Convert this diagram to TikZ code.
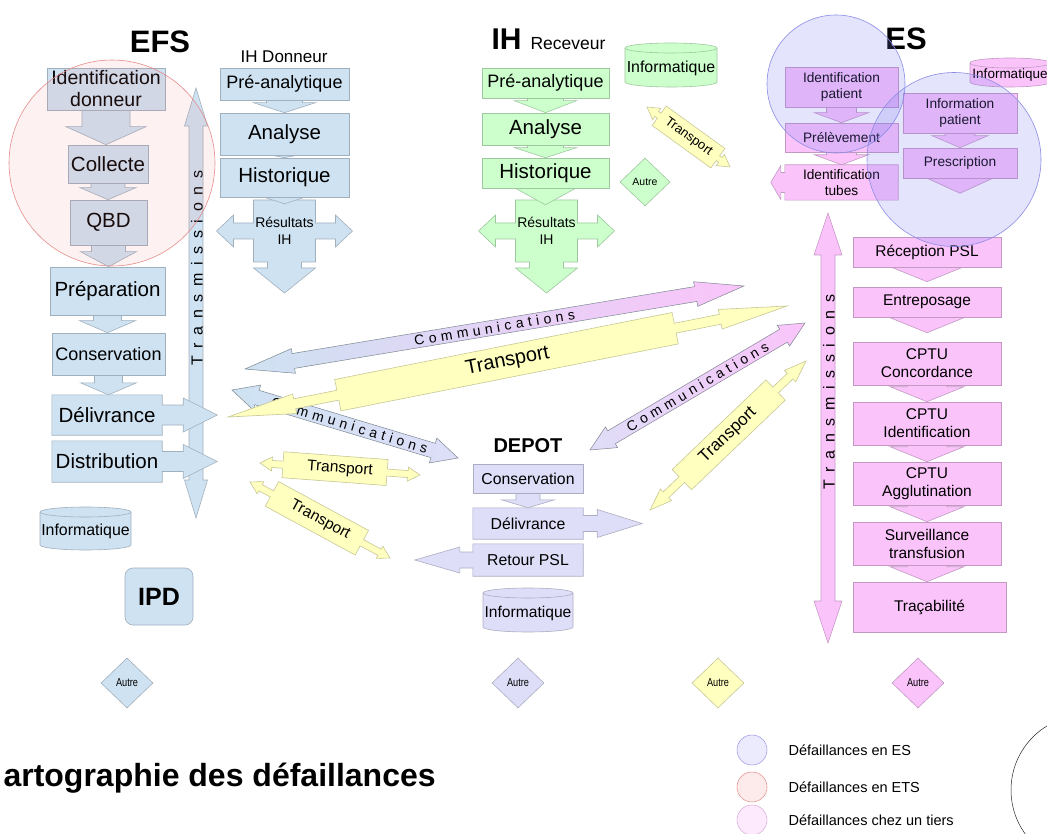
\documentclass[tikz,border=0pt]{standalone}
\usepackage{fontspec}
\setmainfont{Liberation Sans}
\newfontfamily\narrowf[FakeStretch=0.8]{Liberation Sans}
\newfontfamily\spacedf[LetterSpace=32]{Liberation Sans}
\newfontfamily\tspacedf[LetterSpace=48]{Liberation Sans}
\usetikzlibrary{calc,shapes.geometric}
\pgfdeclarelayer{bg}
\pgfsetlayers{bg,main}
\newcommand\fz[2]{\fontsize{#1}{#2}\selectfont}
\definecolor{cblue}{RGB}{206,226,242}
\definecolor{cgreen}{RGB}{204,255,204}
\definecolor{cpink}{RGB}{250,196,250}
\definecolor{clav}{RGB}{222,222,248}
\definecolor{cyell}{RGB}{255,255,192}
\definecolor{credf}{RGB}{240,120,120}
\definecolor{credd}{RGB}{230,140,140}
\definecolor{cbluef}{RGB}{120,120,240}
\definecolor{cblued}{RGB}{140,140,230}
\tikzset{
 shp/.style={fill=#1, draw=#1!78!black, line width=0.6pt},
 box/.style={shp=#1, inner sep=0pt, align=center},
 lbl/.style={inner sep=0pt, align=center},
 autre/.style={diamond, shp=#1, minimum width=52pt, minimum height=50pt, inner sep=0pt, aspect=1, font=\narrowf\fz{11.5}{12}},
}
% chevron arrow from node #1 down to node #2
\newcommand\chevarrow[7]{%
  \path[shp=#7] let \p1=(#1.south), \p2=(#2.north) in
   (\x1-#3pt,\y1+8pt) -- (\x1+#3pt,\y1+8pt) -- (\x1+#3pt,\y2+#6pt+#5pt) -- (\x1+#4pt,\y2+#6pt+#5pt)
   -- (\x1,\y2+#6pt) -- (\x1-#4pt,\y2+#6pt+#5pt) -- (\x1-#3pt,\y2+#6pt+#5pt) -- cycle;}
\newcommand\rcallout[6]{%
  \path[shp=#6] let \p1=(#1.north west), \p2=(#1.south east), \p3=(#1.east) in
   (\x1,\y1) -- (\x2,\y1) -- (\x2,\y3+#2pt) -- (\x2+#4pt,\y3+#2pt) -- (\x2+#4pt,\y3+#3pt) -- (\x2+#5pt,\y3)
   -- (\x2+#4pt,\y3-#3pt) -- (\x2+#4pt,\y3-#2pt) -- (\x2,\y3-#2pt) -- (\x2,\y2) -- (\x1,\y2) -- cycle;}
\newcommand\lcallout[6]{%
  \path[shp=#6] let \p1=(#1.north west), \p2=(#1.south east), \p3=(#1.west) in
   (\x2,\y1) -- (\x1,\y1) -- (\x1,\y3+#2pt) -- (\x1-#4pt,\y3+#2pt) -- (\x1-#4pt,\y3+#3pt) -- (\x1-#5pt,\y3)
   -- (\x1-#4pt,\y3-#3pt) -- (\x1-#4pt,\y3-#2pt) -- (\x1,\y3-#2pt) -- (\x1,\y2) -- (\x2,\y2) -- cycle;}
\newcommand\dblarrow[6]{%
  \path[#6] (#1)
   -- ($(#1)!#5pt!(#2)!#4pt!90:(#2)$) -- ($(#1)!#5pt!(#2)!#3pt!90:(#2)$)
   -- ($(#2)!#5pt!(#1)!#3pt!-90:(#1)$) -- ($(#2)!#5pt!(#1)!#4pt!-90:(#1)$)
   -- (#2)
   -- ($(#2)!#5pt!(#1)!#4pt!90:(#1)$) -- ($(#2)!#5pt!(#1)!#3pt!90:(#1)$)
   -- ($(#1)!#5pt!(#2)!#3pt!-90:(#2)$) -- ($(#1)!#5pt!(#2)!#4pt!-90:(#2)$) -- cycle;}
\newcommand\bodyarrow[9]{%
  \path[#9] (#1)
   -- ($(#1)!#5pt!(#2)!#4pt!90:(#2)$) -- ($(#1)!#5pt!(#2)!#3pt!90:(#2)$)
   -- ($(#1)!#7pt!(#2)!#3pt!90:(#2)$) -- ($(#1)!#7pt!(#2)!#6pt!90:(#2)$)
   -- ($(#2)!#8pt!(#1)!#6pt!-90:(#1)$) -- ($(#2)!#8pt!(#1)!#3pt!-90:(#1)$)
   -- ($(#2)!#5pt!(#1)!#3pt!-90:(#1)$) -- ($(#2)!#5pt!(#1)!#4pt!-90:(#1)$)
   -- (#2)
   -- ($(#2)!#5pt!(#1)!#4pt!90:(#1)$) -- ($(#2)!#5pt!(#1)!#3pt!90:(#1)$)
   -- ($(#2)!#8pt!(#1)!#3pt!90:(#1)$) -- ($(#2)!#8pt!(#1)!#6pt!90:(#1)$)
   -- ($(#1)!#7pt!(#2)!#6pt!-90:(#2)$) -- ($(#1)!#7pt!(#2)!#3pt!-90:(#2)$)
   -- ($(#1)!#5pt!(#2)!#3pt!-90:(#2)$) -- ($(#1)!#5pt!(#2)!#4pt!-90:(#2)$) -- cycle;}
\newcommand\resarrow[2]{%
  \path[shp=#2] (#1-31,200) -- (#1+31,200) -- (#1+31,223) -- (#1+51,223) -- (#1+51,215) -- (#1+68,231)
   -- (#1+51,247) -- (#1+51,239) -- (#1+31,239) -- (#1+31,262) -- (#1+17,262) -- (#1+17,268) -- (#1+31,268)
   -- (#1,293) -- (#1-31,268) -- (#1-17,268) -- (#1-17,262) -- (#1-31,262) -- (#1-31,239) -- (#1-51,239)
   -- (#1-51,247) -- (#1-68,231) -- (#1-51,215) -- (#1-51,223) -- (#1-31,223) -- cycle;}
\newcommand\cylnode[8]{%
  \path[shp=#6] (#2-#4/2,#3-#5/2+5) -- (#2-#4/2,#3+#5/2-5)
    arc[start angle=180,end angle=360,x radius=#4/2*1pt,y radius=5pt] -- (#2+#4/2,#3-#5/2+5)
    arc[start angle=0,end angle=180,x radius=#4/2*1pt,y radius=5pt] -- cycle;
  \draw[draw=#6!78!black, line width=0.6pt] (#2-#4/2,#3-#5/2+5) arc[start angle=180,end angle=360,x radius=#4/2*1pt,y radius=5pt];
  \node[lbl,font=#7] (#1) at (#2,#3+3) {#8};}
\begin{document}
\begin{tikzpicture}[x=1pt,y=-1pt]
\useasboundingbox (0,0) rectangle (1047,834);
\begin{pgfonlayer}{bg}\fill[white] (0,0) rectangle (1047,834);\end{pgfonlayer}

% ---------- titles
\node[anchor=base, font=\bfseries\fz{31}{31}] (efs) at (160,53) {EFS};
\node[font=\fz{17}{17}] (ihd) at (284,57) {IH Donneur};
\node[anchor=base west] (ihr) at (488,50) {{\bfseries\fz{30}{30}IH}\hspace{9pt}{\fz{17.5}{17.5}Receveur}};
\node[anchor=base, font=\bfseries\fz{31}{31}] (es) at (906,50) {ES};
\node[anchor=base, font=\bfseries\fz{20}{20}] (dep) at (528,452) {DEPOT};

% ---------- EFS column
\node[box=cblue, minimum width=118pt, minimum height=42pt, font=\fz{19.5}{22}] (idd) at (106,89) {Identification\\donneur};
\node[box=cblue, minimum width=80pt, minimum height=38pt, font=\fz{20.5}{22}] (col) at (108,164) {Collecte};
\node[box=cblue, minimum width=77pt, minimum height=45pt, font=\fz{20.5}{22}] (qbd) at (108.5,222.5) {QBD};
\node[box=cblue, minimum width=115pt, minimum height=48pt, font=\fz{20.5}{22}] (prep) at (107.5,291) {Préparation};
\node[box=cblue, minimum width=113pt, minimum height=42pt, font=\fz{18}{20}] (cons) at (108.5,354) {Conservation};
\node[lbl, minimum width=110pt, minimum height=40pt, font=\fz{20.5}{22}] (deli) at (107,415) {Délivrance};
\node[lbl, minimum width=110pt, minimum height=41pt, font=\fz{20.5}{22}] (dist) at (107,461.5) {Distribution};
\cylnode{inf1}{85.5}{528.5}{91}{43}{cblue}{\fz{15.9}{18}}{Informatique}
\node[shp=cblue, rounded corners=8pt, minimum width=68pt, minimum height=57pt, inner sep=0pt, font=\bfseries\fz{25}{25}] (ipd) at (159,596.5) {IPD};

% ---------- IH Donneur
\node[box=cblue, minimum width=129pt, minimum height=32pt, font=\fz{18}{20}] (pre1) at (284.5,84) {Pré-analytique};
\node[box=cblue, minimum width=129pt, minimum height=42pt, font=\fz{20.5}{22}] (ana1) at (284.5,134) {Analyse};
\node[box=cblue, minimum width=129pt, minimum height=39pt, font=\fz{20.5}{22}] (his1) at (284.5,177.5) {Historique};
\node[lbl, minimum width=62pt, minimum height=62pt, font=\fz{14}{17}] (res1) at (284.5,231) {Résultats\\IH};

% ---------- IH Receveur
\node[box=cgreen, minimum width=127pt, minimum height=30pt, font=\fz{18}{20}] (pre2) at (545.5,83) {Pré-analytique};
\node[box=cgreen, minimum width=127pt, minimum height=32pt, font=\fz{20.5}{22}] (ana2) at (545.5,129) {Analyse};
\node[box=cgreen, minimum width=127pt, minimum height=30pt, font=\fz{20.5}{22}] (his2) at (545.5,173) {Historique};
\node[lbl, minimum width=62pt, minimum height=62pt, font=\fz{14}{17}] (res2) at (546.5,231) {Résultats\\IH};
\cylnode{inf2}{671}{65}{92}{44}{cgreen}{\fz{15.9}{18}}{Informatique}
\node[diamond, shp=cgreen, minimum width=50pt, minimum height=48pt, inner sep=0pt, aspect=1, font=\fz{10.5}{11}] (aut0) at (645,182) {Autre};

% ---------- ES top
\cylnode{inf3}{1010}{72.5}{80}{29}{cpink}{\fz{13.5}{16}}{Informatique}
\node[box=cpink, minimum width=113pt, minimum height=40pt, font=\fz{13.7}{16}] (idp) at (841.5,87) {Identification\\patient};
\node[box=cpink, minimum width=113pt, minimum height=29pt, font=\fz{13.7}{16}] (prl) at (841.5,137.5) {Prélèvement};
\node[lbl, minimum width=113pt, minimum height=35pt, font=\fz{13.7}{16}] (idt) at (841.5,182.5) {Identification\\tubes};
\node[box=cpink, minimum width=114pt, minimum height=40pt, font=\fz{13.7}{16}] (inp) at (960,113) {Information\\patient};
\node[box=cpink, minimum width=114pt, minimum height=30pt, font=\fz{13.7}{16}] (prs) at (960,163) {Prescription};

% ---------- ES column
\node[box=cpink, minimum width=148pt, minimum height=30pt, font=\fz{15.5}{18}] (rec) at (927,252) {Réception PSL};
\node[box=cpink, minimum width=148pt, minimum height=30pt, font=\fz{15.5}{18}] (ent) at (927,302) {Entreposage};
\node[box=cpink, minimum width=148pt, minimum height=43pt, font=\fz{15.5}{18}] (cc) at (927,363.5) {CPTU\\Concordance};
\node[box=cpink, minimum width=148pt, minimum height=43pt, font=\fz{15.5}{18}] (ci) at (927,423.5) {CPTU\\Identification};
\node[box=cpink, minimum width=148pt, minimum height=43pt, font=\fz{15.5}{18}] (ca) at (927,483.5) {CPTU\\Agglutination};
\node[box=cpink, minimum width=148pt, minimum height=43pt, font=\fz{15.5}{18}] (sur) at (927,543.5) {Surveillance\\transfusion};
\node[box=cpink, minimum width=153pt, minimum height=50pt, font=\fz{15.5}{18}] (tra) at (929.5,607) {Traçabilité};

% ---------- DEPOT
\node[box=clav, minimum width=110pt, minimum height=29pt, font=\fz{15.8}{18}] (dcons) at (528,478.5) {Conservation};
\node[lbl, minimum width=110pt, minimum height=31pt, font=\fz{15.8}{18}] (ddel) at (528,523.5) {Délivrance};
\node[lbl, minimum width=110pt, minimum height=32pt, font=\fz{15.8}{18}] (dret) at (528,560) {Retour PSL};
\cylnode{dinf}{528}{610}{90}{44}{clav}{\fz{15.6}{18}}{Informatique}

% ---------- coordinates of the free arrows
\coordinate (tx1a) at (196,88);  \coordinate (tx1b) at (196,518);
\coordinate (tx2a) at (828,213); \coordinate (tx2b) at (828,643);
\coordinate (cm1a) at (245,369); \coordinate (cm1b) at (744,286);
\coordinate (cm2a) at (232,390); \coordinate (cm2b) at (458,458);
\coordinate (cm3a) at (590,450); \coordinate (cm3b) at (805,323);
\coordinate (tb1a) at (228,417); \coordinate (tb1b) at (787,306);
\coordinate (tr2a) at (650,510); \coordinate (tr2b) at (806,361);
\coordinate (ts1a) at (260,463); \coordinate (ts1b) at (420,475);
\coordinate (ts2a) at (250,482); \coordinate (ts2b) at (390,558);
\coordinate (ts3a) at (647,107); \coordinate (ts3b) at (730,167);

\begin{pgfonlayer}{bg}
 \dblarrow{tx1a}{tx1b}{7}{11.5}{38}{shp=cblue}
 \dblarrow{tx2a}{tx2b}{7}{14}{42}{shp=cpink}
 \chevarrow{idd}{col}{24}{40}{18}{0}{cblue}
 \chevarrow{col}{qbd}{17}{28}{12}{0}{cblue}
 \chevarrow{qbd}{prep}{17}{28}{15}{0}{cblue}
 \chevarrow{prep}{cons}{14}{28}{12}{0}{cblue}
 \chevarrow{cons}{deli}{14}{28}{12}{0}{cblue}
 \chevarrow{pre1}{ana1}{18}{31}{10}{0}{cblue}
 \chevarrow{ana1}{his1}{18}{31}{6}{0}{cblue}
 \chevarrow{pre2}{ana2}{18}{31}{12}{0}{cgreen}
 \chevarrow{ana2}{his2}{18}{31}{10}{0}{cgreen}
 \resarrow{284.5}{cblue}
 \resarrow{546.5}{cgreen}
 \chevarrow{his1}{res1}{18}{31}{10}{-4}{cblue}
 \chevarrow{his2}{res2}{18}{31}{17}{-5}{cgreen}
 \chevarrow{idp}{prl}{15}{27}{10}{0}{cpink}
 \chevarrow{prl}{idt}{15}{27}{10}{0}{cpink}
 \chevarrow{inp}{prs}{15}{28}{12}{0}{cpink}
 \path[shp=cpink] let \p1=(prs.south) in (\x1-37pt,\y1+2pt) -- (\x1+37pt,\y1+2pt) -- (\x1,\y1-15pt) -- cycle;
 \lcallout{idt}{10}{17}{4}{14}{cpink}
 \chevarrow{rec}{ent}{20}{37}{15}{5}{cpink}
 \chevarrow{ent}{cc}{20}{37}{15}{9}{cpink}
 \chevarrow{cc}{ci}{20}{37}{15}{0}{cpink}
 \chevarrow{ci}{ca}{20}{37}{15}{0}{cpink}
 \chevarrow{ca}{sur}{20}{37}{15}{0}{cpink}
 \chevarrow{sur}{tra}{20}{37}{15}{0}{cpink}
 \rcallout{deli}{10}{17}{21}{55}{cblue}
 \rcallout{dist}{10}{17}{21}{55}{cblue}
 \chevarrow{dcons}{ddel}{12}{26.5}{8}{0}{clav}
 \rcallout{ddel}{8}{14}{14}{59}{clav}
 \lcallout{dret}{8}{13}{13}{58}{clav}
\end{pgfonlayer}

\node[rotate=90, font=\tspacedf\fz{16}{16}] (trt1) at (197,268) {Transmissions};
\node[rotate=90, font=\tspacedf\fz{16}{16}] (trt2) at (829,392) {Transmissions};

% ---------- middle arrows
\dblarrow{cm2a}{cm2b}{7.5}{13}{26}{left color=cblue,right color=clav,draw=cblue!60!black,line width=0.5pt}
\path (cm2a) -- (cm2b) node[pos=0.52, sloped, font=\spacedf\fz{14}{14}] (cm2t) {Communications};
\dblarrow{cm1a}{cm1b}{7.5}{12.5}{49}{left color=cblue,middle color=clav,right color=cpink,draw=cblue!60!black,line width=0.5pt}
\path (cm1a) -- (cm1b) node[pos=0.5, sloped, font=\spacedf\fz{14}{14}] (cm1t) {Communications};
\bodyarrow{tb1a}{tb1b}{5}{10}{68}{16}{112}{114}{shp=cyell}
\path (tb1a) -- (tb1b) node[pos=0.5, sloped, font=\fz{20}{20}] (tb1t) {Transport};
\dblarrow{cm3a}{cm3b}{7.5}{12}{25}{left color=clav,right color=cpink,draw=clav!60!black,line width=0.5pt}
\path (cm3a) -- (cm3b) node[pos=0.5, sloped, font=\spacedf\fz{14}{14}] (cm3t) {Communications};
\bodyarrow{tr2a}{tr2b}{4}{8}{22}{14}{44}{42}{shp=cyell}
\path (tr2a) -- (tr2b) node[pos=0.5, sloped, font=\fz{17}{17}] (tr2t) {Transport};
\bodyarrow{ts1a}{ts1b}{3.5}{7}{12}{13}{23}{33}{shp=cyell}
\path (ts1a) -- (ts1b) node[pos=0.5, sloped, font=\fz{15.5}{16}] (ts1t) {Transport};
\bodyarrow{ts2a}{ts2b}{3.5}{7}{12}{14}{25}{32}{shp=cyell}
\path (ts2a) -- (ts2b) node[pos=0.5, sloped, font=\fz{15.5}{16}] (ts2t) {Transport};
\bodyarrow{ts3a}{ts3b}{3}{7}{12}{12}{15}{15}{shp=cyell}
\path (ts3a) -- (ts3b) node[pos=0.5, sloped, font=\fz{13}{13}] (ts3t) {Transport};

% ---------- Autre diamonds
\node[autre=cblue] (aut1) at (127,683) {Autre};
\node[autre=clav] (aut2) at (518,683) {Autre};
\node[autre=cyell] (aut3) at (718,683) {Autre};
\node[autre=cpink] (aut4) at (918,683) {Autre};

% ---------- failure circles
\node[circle, minimum size=206pt, inner sep=0pt, draw=credd, fill=credf, fill opacity=0.1, line width=0.6pt] (zr) at (112,163) {};
\node[circle, minimum size=138pt, inner sep=0pt, draw=cblued, fill=cbluef, fill opacity=0.2, line width=0.6pt] (zb1) at (836,84) {};
\node[circle, minimum size=174pt, inner sep=0pt, draw=cblued, fill=cbluef, fill opacity=0.2, line width=0.6pt] (zb2) at (954,159.5) {};

% ---------- title and legend
\node[anchor=west, font=\bfseries\fz{32}{32}] (title) at (0,778) {artographie des défaillances};
\node[circle, minimum size=30pt, inner sep=0pt, draw=cblued!80, fill=cbluef!15, line width=0.6pt] (lg1) at (752,750) {};
\node[circle, minimum size=30pt, inner sep=0pt, draw=credd!90, fill=credf!15, line width=0.6pt] (lg2) at (752,787) {};
\node[circle, minimum size=30pt, inner sep=0pt, draw=cpink!90!black, fill=cpink!35, line width=0.6pt] (lg3) at (752,820) {};
\node[anchor=west, font=\fz{14.5}{15}] (lt1) at (785,750) {Défaillances en ES};
\node[anchor=west, font=\fz{14.5}{15}] (lt2) at (785,787) {Défaillances en ETS};
\node[anchor=west, font=\fz{14.5}{15}] (lt3) at (785,820) {Défaillances chez un tiers};
\node[circle, minimum size=150pt, inner sep=0pt, draw=black!85, line width=0.5pt] (bigc) at (1086,790) {};
\end{tikzpicture}
\end{document}
